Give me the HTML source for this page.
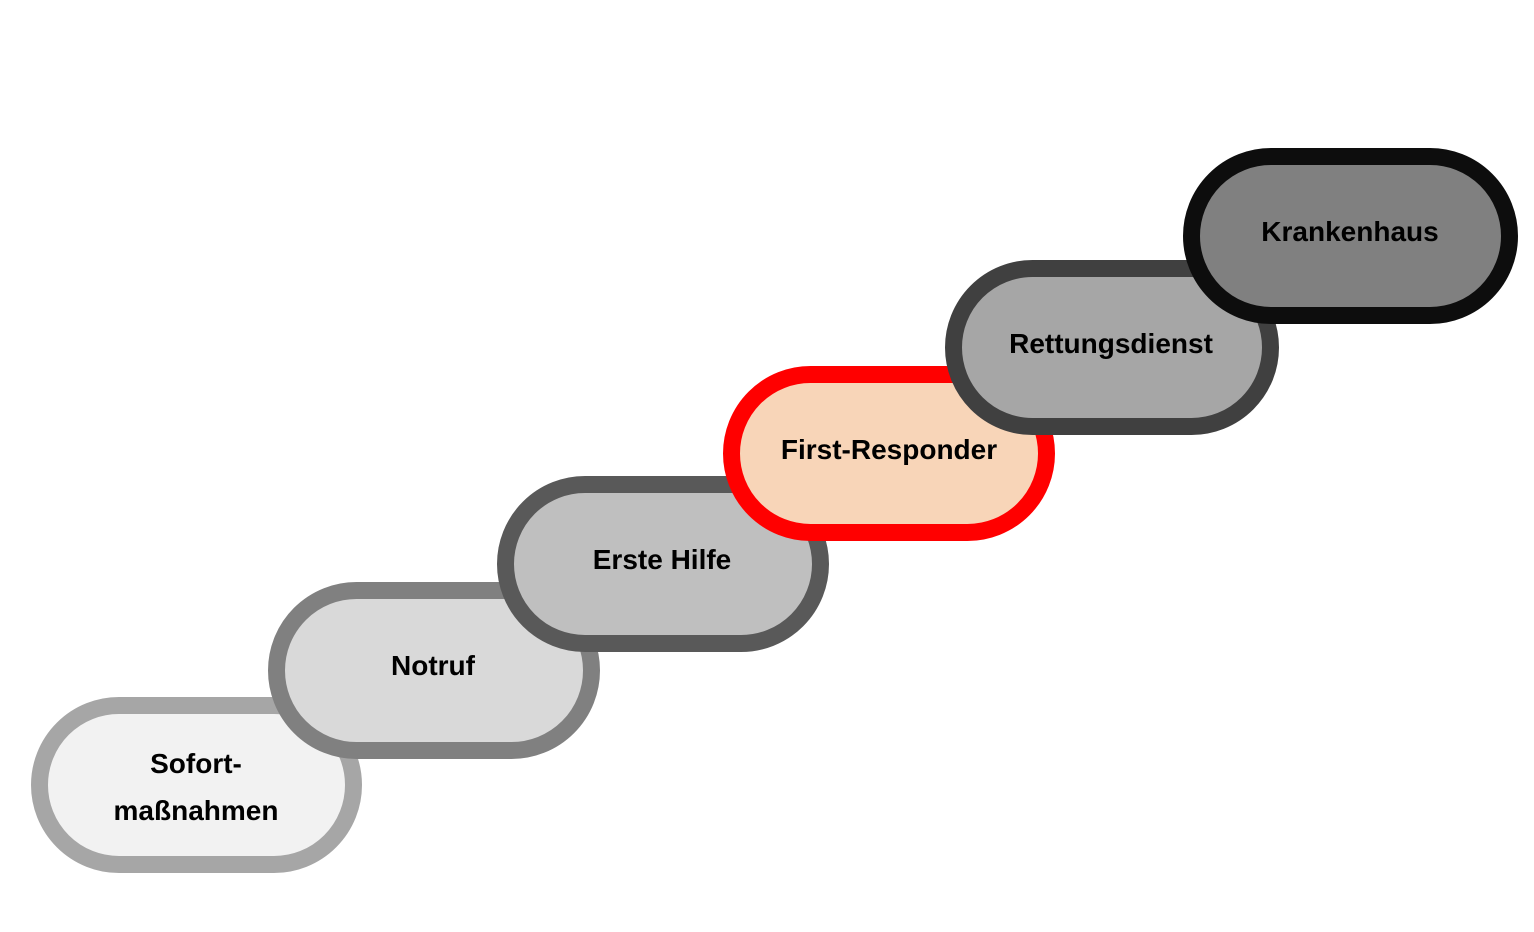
<!DOCTYPE html>
<html><head><meta charset="utf-8"><style>
html,body{margin:0;padding:0;background:#fff;}
svg{display:block}
text{font-family:"Liberation Sans",sans-serif;font-weight:bold;font-size:28px;fill:#000;text-anchor:middle;}
</style></head><body>
<svg width="1534" height="932" viewBox="0 0 1534 932" xmlns="http://www.w3.org/2000/svg">
<g stroke-width="17">
<rect x="39.5" y="705.5" width="314" height="159" rx="79.5" fill="#f2f2f2" stroke="#a6a6a6"/>
<rect x="276.5" y="590.5" width="315" height="160" rx="80" fill="#d9d9d9" stroke="#808080"/>
<rect x="505.5" y="484.5" width="315" height="159" rx="79.5" fill="#bfbfbf" stroke="#595959"/>
<rect x="731.5" y="374.5" width="315" height="158" rx="79" fill="#f8d5b8" stroke="#ff0000"/>
<rect x="953.5" y="268.5" width="317" height="158" rx="79" fill="#a6a6a6" stroke="#404040"/>
<rect x="1191.5" y="156.5" width="318" height="159" rx="79.5" fill="#808080" stroke="#0d0d0d"/>
</g>
<text x="196" y="773">Sofort-</text>
<text x="196" y="820">maßnahmen</text>
<text x="433" y="675">Notruf</text>
<text x="662" y="569">Erste Hilfe</text>
<text x="889" y="459">First-Responder</text>
<text x="1111" y="353">Rettungsdienst</text>
<text x="1350" y="241">Krankenhaus</text>
</svg>
</body></html>
